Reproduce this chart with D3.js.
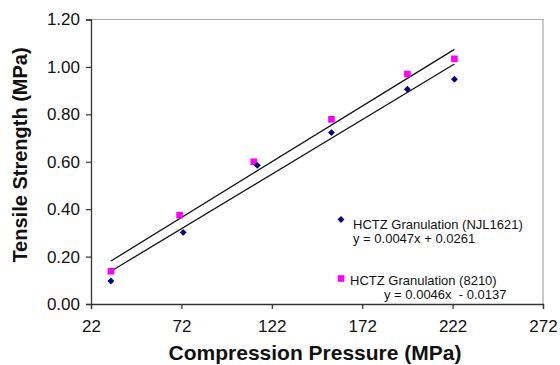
<!DOCTYPE html>
<html>
<head>
<meta charset="utf-8">
<script src="https://cdn.jsdelivr.net/npm/d3@7"></script>
<style>
  html, body { margin: 0; padding: 0; background: #fff; }
  svg { display: block; font-family: "Liberation Sans", Arial, Helvetica, sans-serif; }
</style>
</head>
<body>
<div id="chart"></div>
<script>
// values
const xTicks = [22, 72, 122, 172, 222, 272];
const yTicks = [0, 0.2, 0.4, 0.6, 0.8, 1.0, 1.2];

const njlPressure = [33, 73, 114, 155, 197, 223];
const njlStrength = [0.097, 0.302, 0.585, 0.723, 0.906, 0.948];
const b8210Pressure = [33, 71, 112, 155, 197, 223];
const b8210Strength = [0.138, 0.375, 0.600, 0.779, 0.970, 1.034];

// trend line equations as printed in the legend
const njlFit = { slope: 0.0047, icpt: 0.0261, label: 'y = 0.0047x + 0.0261' };
const b8210Fit = { slope: 0.0046, icpt: -0.0137, label: 'y = 0.0046x  - 0.0137' };

const W = 560, H = 365;
const m = { left: 91, top: 19.5, right: 543, bottom: 304 };

const svg = d3.select('#chart').append('svg').attr('width', W).attr('height', H);

const x = d3.scaleLinear().domain([22, 272]).range([m.left, m.right]);
const y = d3.scaleLinear().domain([0, 1.2]).range([m.bottom, m.top]);

// plot frame (light grey on top and right)
svg.append('path')
  .attr('d', `M${m.left},${m.top}H${m.right}V${m.bottom}`)
  .attr('fill', 'none').attr('stroke', '#a8a8a8').attr('stroke-width', 1.2);

const gx = svg.append('g').attr('transform', `translate(0,${m.bottom})`)
  .call(d3.axisBottom(x).tickValues(xTicks).tickSize(5).tickPadding(8).tickFormat(d3.format('d')));
const gy = svg.append('g').attr('transform', `translate(${m.left},0)`)
  .call(d3.axisLeft(y).tickValues(yTicks).tickSize(5).tickPadding(6).tickFormat(d3.format('.2f')));
[gx, gy].forEach(g => {
  g.select('.domain').attr('stroke', '#333').attr('stroke-width', 1.3);
  g.selectAll('.tick line').attr('stroke', '#333').attr('stroke-width', 1.2);
  g.selectAll('.tick text').attr('fill', '#111').style('font-size', '17px')
    .style('font-family', '"Liberation Sans", Arial, sans-serif');
});
gx.selectAll('.tick text').attr('dy', '0.9em');

// trend lines over the data extent
function trend(xs, fit) {
  const [a, b] = d3.extent(xs);
  svg.append('line')
    .attr('x1', x(a)).attr('y1', y(fit.slope * a + fit.icpt))
    .attr('x2', x(b)).attr('y2', y(fit.slope * b + fit.icpt))
    .attr('stroke', '#111').attr('stroke-width', 1.3);
}
trend(njlPressure, njlFit);
trend(b8210Pressure, b8210Fit);

const diamond = d3.symbol().type(d3.symbolDiamond2).size(30);
const square = d3.symbol().type(d3.symbolSquare).size(44);

svg.append('g').selectAll('path').data(d3.zip(b8210Pressure, b8210Strength)).join('path')
  .attr('d', square).attr('fill', '#ff00ff')
  .attr('transform', d => `translate(${x(d[0])},${y(d[1])})`);
svg.append('g').selectAll('path').data(d3.zip(njlPressure, njlStrength)).join('path')
  .attr('d', diamond).attr('fill', '#000080')
  .attr('transform', d => `translate(${x(d[0])},${y(d[1])})`);

// legend
const lg = svg.append('g').style('font-size', '13px').attr('fill', '#111');
lg.append('path').attr('d', diamond).attr('fill', '#000080').attr('transform', 'translate(341,219.5)');
lg.append('text').attr('x', 353).attr('y', 229).text('HCTZ Granulation (NJL1621)');
lg.append('text').attr('x', 353).attr('y', 243).text(njlFit.label);
lg.append('path').attr('d', square).attr('fill', '#ff00ff').attr('transform', 'translate(341,278.5)');
lg.append('text').attr('x', 350).attr('y', 285).text('HCTZ Granulation (8210)');
lg.append('text').attr('x', 384).attr('y', 299).style('white-space', 'pre').text(b8210Fit.label);

// axis titles
svg.append('text').attr('x', 315).attr('y', 360)
  .attr('text-anchor', 'middle').style('font-size', '21px').style('font-weight', 'bold')
  .attr('fill', '#111').text('Compression Pressure (MPa)');
svg.append('text').attr('transform', `translate(27,155) rotate(-90)`)
  .attr('text-anchor', 'middle').style('font-size', '20px').style('font-weight', 'bold')
  .attr('fill', '#111').text('Tensile Strength (MPa)');
</script>
</body>
</html>
